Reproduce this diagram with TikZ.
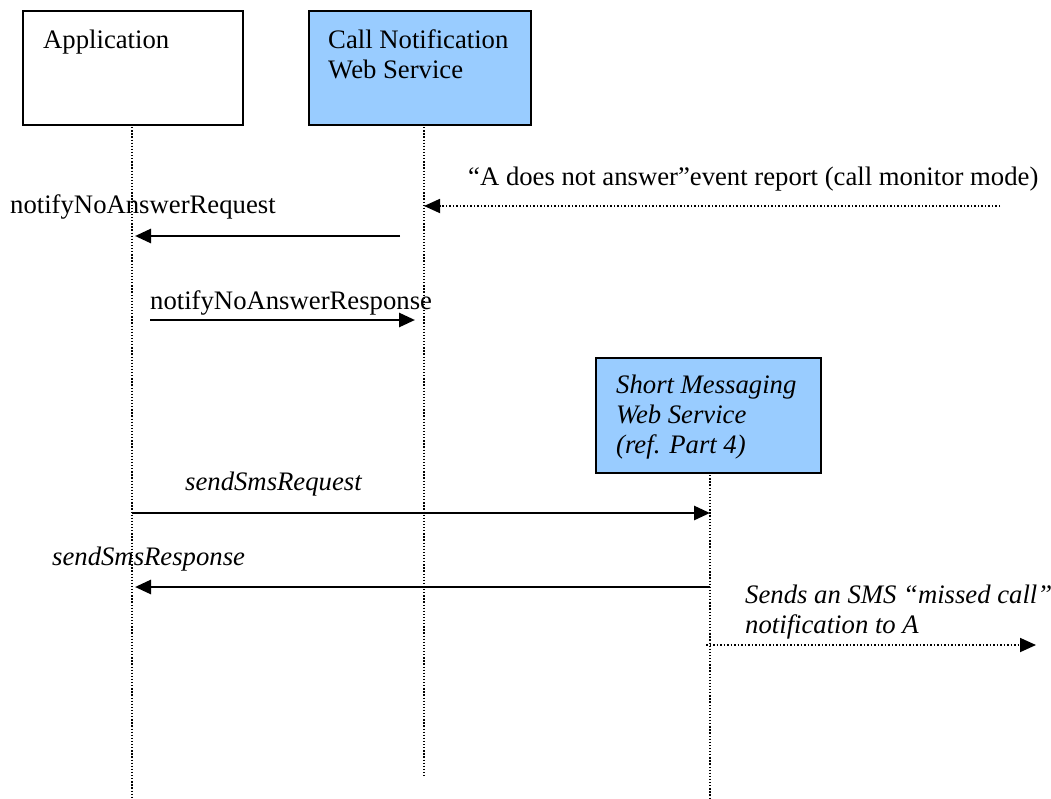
\documentclass[tikz,border=0pt]{standalone}
\usepackage{fontspec}
\setmainfont{Liberation Serif}
\usetikzlibrary{arrows.meta}
\definecolor{boxblue}{HTML}{99CCFF}
\begin{document}
\begin{tikzpicture}[x=1pt,y=-1pt,
  every node/.style={font=\fontsize{26.7}{30}\selectfont, inner sep=0pt},
  actor/.style={draw=black, line width=2.4pt, anchor=north west, minimum width=#1},
  lbl/.style={anchor=base west},
  ilbl/.style={anchor=base west, font=\fontsize{26.7}{30}\selectfont\itshape},
  lifeline/.style={line width=1.5pt, dash pattern=on 1.3pt off 1.8pt},
  msg/.style={line width=2.8pt, -{Triangle[length=16pt,width=14pt]}},
  evt/.style={line width=1.8pt, dash pattern=on 1.5pt off 2pt, -{Triangle[length=16pt,width=14pt]}}
]
\useasboundingbox (0,0) rectangle (1051,798);

% actor boxes
\node[actor=220pt, minimum height=114pt] (app) at (22,10) {};
\node[actor=222pt, minimum height=114pt, fill=boxblue] (cn) at (308,10) {};
\node[actor=225pt, minimum height=115pt, fill=boxblue] (sms) at (595,357) {};

\node[lbl] (appT) at (43,48) {Application};
\node[lbl] (cnT1) at (328,48) {Call Notification};
\node[lbl] (cnT2) at (328,78) {Web Service};
\node[ilbl] (smsT1) at (616,393) {Short Messaging};
\node[ilbl] (smsT2) at (616,423) {Web Service};
\node[ilbl] (smsT3) at (616,453) {(ref. Part 4)};

% lifelines
\coordinate (appTop) at (132,124);
\coordinate (appBot) at (132,798);
\coordinate (cnTop) at (424,124);
\coordinate (cnBot) at (424,778);
\coordinate (smsTop) at (710,472);
\coordinate (smsBot) at (710,798);
\draw[lifeline] (appTop) -- (appBot);
\draw[lifeline] (cnTop) -- (cnBot);
\draw[lifeline] (smsTop) -- (smsBot);

% event report
\node[lbl] (evtT) at (468,185) {“A does not answer”event report (call monitor mode)};
\coordinate (evtS) at (1000,206);
\draw[evt] (evtS) -- (evtS -| cnTop);

% notifyNoAnswerRequest
\node[lbl] (nreqT) at (10,213) {notifyNoAnswerRequest};
\coordinate (nreqS) at (400,236);
\coordinate (nreqE) at (135,236);
\draw[msg] (nreqS) -- (nreqE);

% notifyNoAnswerResponse
\node[lbl] (nresT) at (150,309) {notifyNoAnswerResponse};
\coordinate (nresS) at (150,320);
\coordinate (nresE) at (415,320);
\draw[msg] (nresS) -- (nresE);

% sendSmsRequest
\node[ilbl] (sreqT) at (185,490) {sendSmsRequest};
\coordinate (sreqY) at (0,513);
\draw[msg] (sreqY -| appTop) -- (sreqY -| smsTop);

% sendSmsResponse
\node[ilbl] (sresT) at (52,565) {sendSmsResponse};
\coordinate (sresY) at (0,587);
\draw[msg] (sresY -| smsTop) -- ([xshift=3pt]sresY -| appTop);

% SMS out
\node[ilbl] (outT1) at (745,603) {Sends an SMS “missed call”};
\node[ilbl] (outT2) at (745,633) {notification to A};
\coordinate (outS) at (706,645);
\coordinate (outE) at (1036,645);
\draw[evt] (outS) -- (outE);
\end{tikzpicture}
\end{document}
